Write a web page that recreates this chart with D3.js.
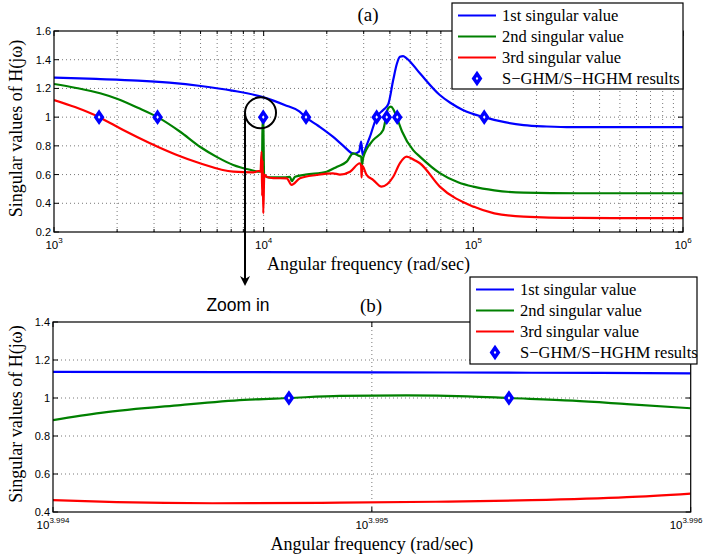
<!DOCTYPE html>
<html>
<head>
<meta charset="utf-8">
<script src="https://cdn.jsdelivr.net/npm/d3@7"></script>
<style>
  body { margin: 0; background: #fff; }
  svg { display: block; }
</style>
</head>
<body>
<div id="chart"></div>
<script>
// data: [log10(omega), singular value]
const sv1Full = [[3.0,1.275],[3.2,1.266],[3.4,1.255],[3.55,1.24],[3.7,1.217],[3.85,1.185],[4.0,1.138],
  [4.1,1.085],[4.17,1.04],[4.2,1.0],[4.26,0.94],[4.33,0.864],[4.38,0.80],[4.43,0.745],[4.455,0.76],
  [4.465,0.83],[4.472,0.737],[4.49,0.80],[4.507,0.864],[4.539,1.0],[4.57,1.05],[4.594,1.09],[4.618,1.26],
  [4.635,1.37],[4.65,1.42],[4.665,1.425],[4.682,1.41],[4.745,1.305],[4.84,1.154],[4.89,1.10],[4.95,1.05],
  [5.05,1.0],[5.15,0.965],[5.24,0.945],[5.35,0.935],[5.47,0.93],[6.0,0.93]];
const sv2Full = [[3.0,1.231],[3.1,1.205],[3.22,1.166],[3.3,1.128],[3.4,1.065],[3.494,1.0],[3.6,0.9],
  [3.696,0.794],[3.78,0.72],[3.855,0.667],[3.93,0.635],[3.982,0.62],[3.992,0.66],[3.995,1.0],[3.998,0.98],
  [4.002,0.6],[4.022,0.581],[4.1,0.58],[4.125,0.585],[4.134,0.555],[4.15,0.585],[4.2,0.6],[4.3,0.62],
  [4.35,0.655],[4.396,0.69],[4.427,0.748],[4.455,0.73],[4.465,0.725],[4.469,0.67],[4.475,0.72],
  [4.523,0.841],[4.57,0.911],[4.594,1.062],[4.607,1.073],[4.62,1.05],[4.637,0.99],[4.66,0.9],[4.713,0.77],
  [4.745,0.725],[4.84,0.61],[4.93,0.545],[5.0,0.516],[5.1,0.49],[5.24,0.474],[5.5,0.47],[6.0,0.47]];
const sv3Full = [[3.0,1.119],[3.1,1.07],[3.215,1.0],[3.33,0.91],[3.458,0.818],[3.58,0.74],[3.696,0.679],
  [3.855,0.62],[3.95,0.615],[3.975,0.625],[3.985,0.62],[3.99,0.76],[3.993,0.45],[3.995,0.7],[3.998,0.33],
  [4.003,0.6],[4.014,0.585],[4.046,0.575],[4.11,0.574],[4.133,0.528],[4.173,0.574],[4.253,0.597],
  [4.33,0.609],[4.364,0.6],[4.412,0.62],[4.459,0.679],[4.465,0.66],[4.467,0.58],[4.47,0.66],[4.49,0.6],
  [4.523,0.562],[4.562,0.516],[4.618,0.585],[4.65,0.68],[4.682,0.725],[4.72,0.7],[4.745,0.679],
  [4.84,0.516],[5.0,0.377],[5.1,0.33],[5.24,0.307],[5.5,0.298],[6.0,0.296]];
const ghmFull = [[3.215,1.0],[3.494,1.0],[3.998,1.0],[4.202,1.0],[4.539,1.0],[4.587,1.0],[4.637,1.0],[5.052,1.0]];

const sv1Zoom = [[3.994,1.138],[3.995,1.135],[3.9955,1.133],[3.996,1.13]];
const sv2Zoom = [[3.994,0.884],[3.99415,0.922],[3.9944,0.963],[3.9946,0.99],[3.99474,1.0],[3.9949,1.011],
  [3.99511,1.014],[3.9953,1.009],[3.99543,1.0],[3.99563,0.986],[3.9958,0.968],[3.996,0.946]];
const sv3Zoom = [[3.994,0.463],[3.9942,0.452],[3.9945,0.446],[3.9949,0.449],[3.9952,0.454],[3.9955,0.462],
  [3.9958,0.478],[3.996,0.497]];
const ghmZoom = [[3.99474,1.0],[3.99543,1.0]];

const legendLabels = ["1st singular value", "2nd singular value", "3rd singular value", "S\u2212GHM/S\u2212HGHM results"];
const colors = ["#0000ff", "#008000", "#ff0000"];

const width = 704, height = 556;
const svg = d3.select("#chart").append("svg")
    .attr("width", width)
    .attr("height", height)
    .style("font-family", "'Liberation Sans', Arial, sans-serif");

function diamond(sel) {
  sel.attr("d", "M0,-4.8L3.3,0L0,4.8L-3.3,0Z")
    .attr("fill", "#fff")
    .attr("stroke", "#0000ff")
    .attr("stroke-width", 3.4)
    .attr("stroke-linejoin", "miter");
}

function panel(o) {
  const x = d3.scaleLog().domain([Math.pow(10, o.xDom[0]), Math.pow(10, o.xDom[1])]).range([o.left, o.right]);
  const y = d3.scaleLinear().domain(o.yDom).range([o.bottom, o.top]);
  const g = svg.append("g");
  const id = "clip" + o.name;

  svg.append("clipPath").attr("id", id)
    .append("rect").attr("x", o.left).attr("y", o.top - 6)
    .attr("width", o.right - o.left).attr("height", o.bottom - o.top + 6);

  // grid
  o.yTicks.forEach(function(v) {
    if (v === o.yDom[0] || v === o.yDom[1]) return;
    g.append("line").attr("x1", o.left).attr("x2", o.right).attr("y1", y(v)).attr("y2", y(v))
      .attr("stroke", "#555").attr("stroke-width", 0.8).attr("stroke-dasharray", "1,3");
  });
  o.xGrid.forEach(function(e) {
    const px = x(Math.pow(10, e));
    if (Math.abs(px - o.left) < 1 || Math.abs(px - o.right) < 1) return;
    g.append("line").attr("x1", px).attr("x2", px).attr("y1", o.top).attr("y2", o.bottom)
      .attr("stroke", "#555").attr("stroke-width", 0.8).attr("stroke-dasharray", "1,3");
  });

  // ticks (inward)
  o.yTicks.forEach(function(v) {
    g.append("line").attr("x1", o.left).attr("x2", o.left + 5).attr("y1", y(v)).attr("y2", y(v)).attr("stroke", "#000");
    g.append("line").attr("x1", o.right).attr("x2", o.right - 5).attr("y1", y(v)).attr("y2", y(v)).attr("stroke", "#000");
    g.append("text").attr("x", o.left - 3).attr("y", y(v) + 4).attr("text-anchor", "end")
      .attr("font-size", 11).text(d3.format("")(v));
  });
  o.xGrid.forEach(function(e) {
    const px = x(Math.pow(10, e));
    const major = o.xMajor.indexOf(e) >= 0;
    const len = major ? 5 : 3;
    g.append("line").attr("x1", px).attr("x2", px).attr("y1", o.bottom).attr("y2", o.bottom - len).attr("stroke", "#000");
    g.append("line").attr("x1", px).attr("x2", px).attr("y1", o.top).attr("y2", o.top + len).attr("stroke", "#000");
  });
  o.xMajor.forEach(function(e, i) {
    let px = x(Math.pow(10, e));
    const t = g.append("text").attr("y", o.bottom + 17).attr("text-anchor", "middle").attr("font-size", 11.5);
    t.append("tspan").text("10");
    t.append("tspan").attr("dy", -6).attr("font-size", 8).text(o.xLabels[i]);
    t.attr("x", px);
    const bb = t.node().getBBox();
    if (bb.x + bb.width > width - 1) t.attr("x", px - (bb.x + bb.width - width + 1));
  });

  // curves
  const line = d3.line()
      .curve(d3.curveMonotoneX)
      .x(function(d) { return x(Math.pow(10, d[0])); })
      .y(function(d) { return y(d[1]); });
  const curves = g.append("g").attr("clip-path", "url(#" + id + ")");
  o.series.forEach(function(s, i) {
    curves.append("path").datum(s)
      .attr("d", line)
      .attr("fill", "none")
      .attr("stroke", colors[i])
      .attr("stroke-width", 2.2)
      .attr("stroke-linejoin", "round");
  });
  curves.selectAll("path.mk").data(o.marks).enter().append("path")
      .attr("class", "mk")
      .attr("transform", function(d) { return "translate(" + x(Math.pow(10, d[0])) + "," + y(d[1]) + ")"; })
      .call(diamond);

  // frame
  g.append("rect").attr("x", o.left).attr("y", o.top)
    .attr("width", o.right - o.left).attr("height", o.bottom - o.top)
    .attr("fill", "none").attr("stroke", "#000").attr("stroke-width", 1.2);

  // labels
  g.append("text").attr("x", (o.left + o.right) / 2).attr("y", o.bottom + 38)
    .attr("text-anchor", "middle").attr("font-family", "'Liberation Serif', 'Times New Roman', serif")
    .attr("font-size", 18).text("Angular frequency (rad/sec)");
  g.append("text")
    .attr("transform", "translate(" + 22 + "," + ((o.top + o.bottom) / 2 - 3) + ") rotate(-90)")
    .attr("text-anchor", "middle").attr("font-family", "'Liberation Serif', 'Times New Roman', serif")
    .attr("font-size", 18).text("Singular values of H(j\u03c9)");
  g.append("text").attr("x", o.titleX).attr("y", o.titleY)
    .attr("text-anchor", "middle").attr("font-family", "'Liberation Serif', 'Times New Roman', serif")
    .attr("font-size", 19).text(o.title);

  // legend
  const lg = svg.append("g");
  lg.append("rect").attr("x", o.leg[0]).attr("y", o.leg[1]).attr("width", o.leg[2]).attr("height", o.leg[3])
    .attr("fill", "#fff").attr("stroke", "#000").attr("stroke-width", 1.2);
  legendLabels.forEach(function(lab, i) {
    const ry = o.leg[1] + 12.5 + i * 21;
    const lx = o.leg[0] + 6;
    if (i < 3) {
      lg.append("line").attr("x1", lx).attr("x2", lx + 38).attr("y1", ry).attr("y2", ry)
        .attr("stroke", colors[i]).attr("stroke-width", 2.2);
    } else {
      lg.append("path").attr("transform", "translate(" + (lx + 19) + "," + ry + ")").call(diamond);
    }
    lg.append("text").attr("x", lx + 44).attr("y", ry + 5.5)
      .attr("font-family", "'Liberation Serif', 'Times New Roman', serif")
      .attr("font-size", 16.5).text(lab);
  });

  return { x: x, y: y };
}

const topMinor = [];
[3, 4, 5].forEach(function(k) {
  topMinor.push(k);
  for (let m = 2; m <= 9; m++) topMinor.push(k + Math.log10(m));
});
topMinor.push(6);

const a = panel({
  name: "a", left: 54, right: 683, top: 31, bottom: 232,
  xDom: [3, 6], yDom: [0.2, 1.6],
  yTicks: [0.2, 0.4, 0.6, 0.8, 1, 1.2, 1.4, 1.6],
  xGrid: topMinor, xMajor: [3, 4, 5, 6], xLabels: ["3", "4", "5", "6"],
  series: [sv1Full, sv2Full, sv3Full], marks: ghmFull,
  title: "(a)", titleX: 368, titleY: 21,
  leg: [452, 3, 231, 86]
});

panel({
  name: "b", left: 53, right: 690.7, top: 322, bottom: 512,
  xDom: [3.994, 3.996], yDom: [0.4, 1.4],
  yTicks: [0.4, 0.6, 0.8, 1, 1.2, 1.4],
  xGrid: [3.994, 3.995, 3.996], xMajor: [3.994, 3.995, 3.996], xLabels: ["3.994", "3.995", "3.996"],
  series: [sv1Zoom, sv2Zoom, sv3Zoom], marks: ghmZoom,
  title: "(b)", titleX: 371, titleY: 312,
  leg: [470, 277, 227, 87]
});

// zoom-in annotation
const cx = a.x(Math.pow(10, 3.985)), cy = a.y(1.03), r = 15.5;
svg.append("circle").attr("cx", cx).attr("cy", cy).attr("r", r)
  .attr("fill", "none").attr("stroke", "#000").attr("stroke-width", 2);
svg.append("line").attr("x1", cx - r).attr("x2", cx - r).attr("y1", cy).attr("y2", 279)
  .attr("stroke", "#000").attr("stroke-width", 2);
svg.append("path")
  .attr("d", "M" + (cx - r - 5) + ",276L" + (cx - r) + ",286L" + (cx - r + 5) + ",276L" + (cx - r) + ",279Z")
  .attr("fill", "#000");
svg.append("text").attr("x", 238).attr("y", 311).attr("text-anchor", "middle")
  .attr("font-size", 17.5).text("Zoom in");
</script>
</body>
</html>
